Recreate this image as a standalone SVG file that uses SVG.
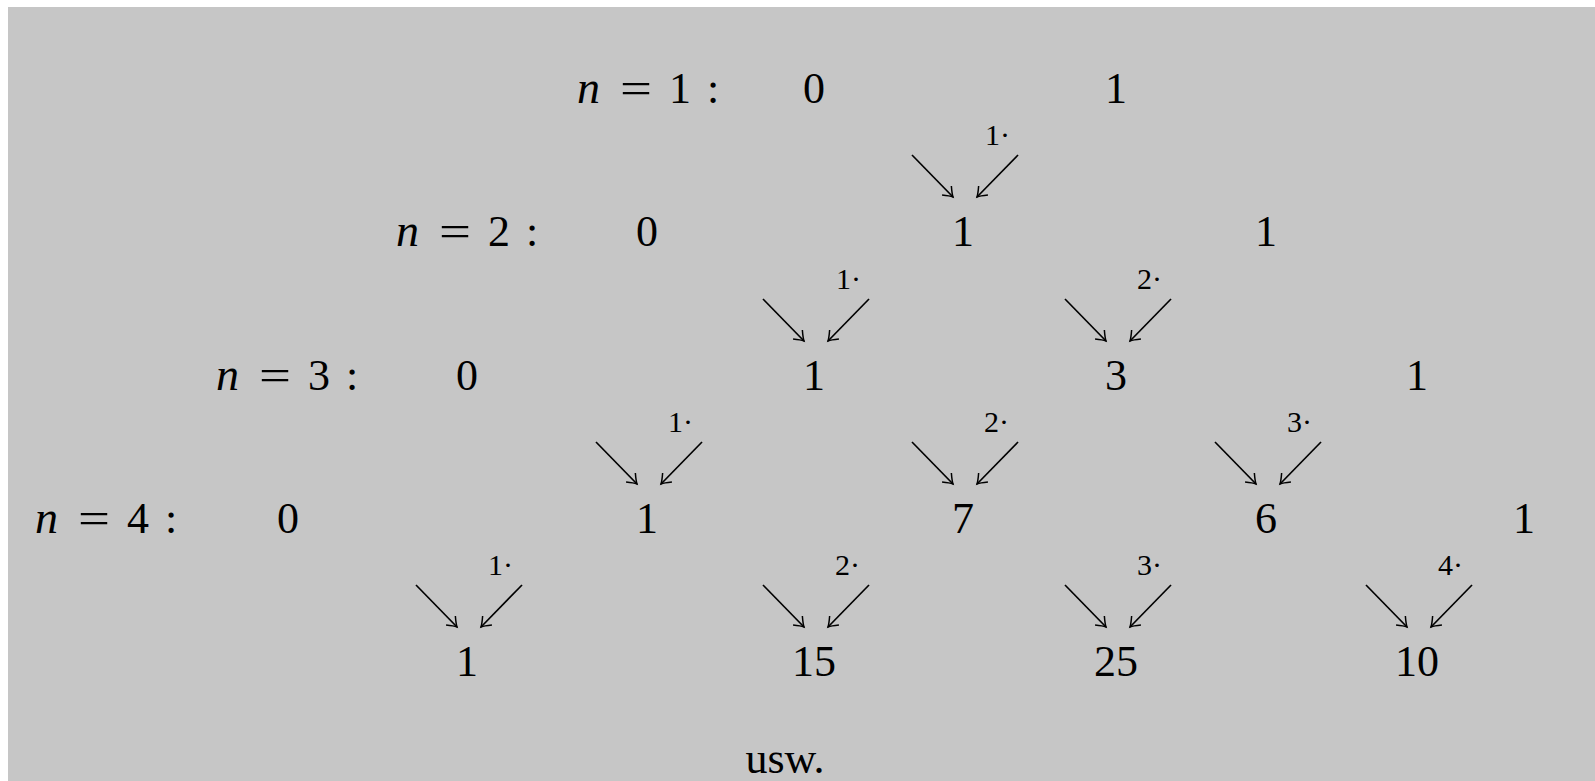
<svg xmlns="http://www.w3.org/2000/svg" width="1595" height="781" viewBox="0 0 1595 781">
<style>
text{font-family:"Liberation Serif","DejaVu Serif",serif;fill:#000}
.v{font-size:44px;text-anchor:middle}
.lab{font-size:44px}
.m{font-style:italic;font-size:46px}
.s{font-size:30px}
.a{stroke:#000;stroke-width:1.7;fill:none;marker-end:url(#ah)}
</style>
<defs>
<marker id="ah" markerUnits="userSpaceOnUse" markerWidth="20" markerHeight="20" viewBox="-10 -10 20 20" refX="0" refY="0" orient="auto" overflow="visible">
<path d="M-9,-6.5 Q-3,-1.5 0,0 Q-3,1.5 -9,6.5" stroke="#000" stroke-width="1.5" fill="none"/>
</marker>
</defs>
<rect x="8" y="7" width="1587" height="774" fill="#c6c6c6"/>
<g id="labels">
<g id="label-n1"><text class="lab m" x="577" y="103">n</text><text class="lab" x="620" y="103" textLength="32" lengthAdjust="spacingAndGlyphs">=</text><text class="lab" x="669" y="103">1</text><text class="lab" x="707" y="103">:</text></g>
<g id="label-n2"><text class="lab m" x="396" y="246">n</text><text class="lab" x="439" y="246" textLength="32" lengthAdjust="spacingAndGlyphs">=</text><text class="lab" x="488" y="246">2</text><text class="lab" x="526" y="246">:</text></g>
<g id="label-n3"><text class="lab m" x="216" y="390">n</text><text class="lab" x="259" y="390" textLength="32" lengthAdjust="spacingAndGlyphs">=</text><text class="lab" x="308" y="390">3</text><text class="lab" x="346" y="390">:</text></g>
<g id="label-n4"><text class="lab m" x="35" y="533">n</text><text class="lab" x="78" y="533" textLength="32" lengthAdjust="spacingAndGlyphs">=</text><text class="lab" x="127" y="533">4</text><text class="lab" x="165" y="533">:</text></g>
</g>
<g id="row1">
<g id="r1c0"><text class="v" x="814" y="103">0</text></g>
<g id="r1c1"><text class="v" x="1116" y="103">1</text></g>
</g>
<g id="row2">
<g id="r2c0"><text class="v" x="647" y="246">0</text></g>
<g id="r2c1"><text class="v" x="963" y="246">1</text></g>
<g id="r2c2"><text class="v" x="1266" y="246">1</text></g>
</g>
<g id="row3">
<g id="r3c0"><text class="v" x="467" y="390">0</text></g>
<g id="r3c1"><text class="v" x="814" y="390">1</text></g>
<g id="r3c2"><text class="v" x="1116" y="390">3</text></g>
<g id="r3c3"><text class="v" x="1417" y="390">1</text></g>
</g>
<g id="row4">
<g id="r4c0"><text class="v" x="288" y="533">0</text></g>
<g id="r4c1"><text class="v" x="647" y="533">1</text></g>
<g id="r4c2"><text class="v" x="963" y="533">7</text></g>
<g id="r4c3"><text class="v" x="1266" y="533">6</text></g>
<g id="r4c4"><text class="v" x="1524" y="533">1</text></g>
</g>
<g id="row5">
<g id="r5c1"><text class="v" x="467" y="676">1</text></g>
<g id="r5c2"><text class="v" x="814" y="676">15</text></g>
<g id="r5c3"><text class="v" x="1116" y="676">25</text></g>
<g id="r5c4"><text class="v" x="1417" y="676">10</text></g>
</g>
<g id="usw"><text class="v" x="785" y="773">usw.</text></g>
<g id="connectors">
<line class="a" x1="912" y1="155" x2="953" y2="197"/>
<line class="a" x1="1018" y1="155" x2="977" y2="197"/>
<text class="s" x="985" y="145">1·</text>
<line class="a" x1="763" y1="299" x2="804" y2="341"/>
<line class="a" x1="869" y1="299" x2="828" y2="341"/>
<text class="s" x="836" y="289">1·</text>
<line class="a" x1="1065" y1="299" x2="1106" y2="341"/>
<line class="a" x1="1171" y1="299" x2="1130" y2="341"/>
<text class="s" x="1137" y="289">2·</text>
<line class="a" x1="596" y1="442" x2="637" y2="484"/>
<line class="a" x1="702" y1="442" x2="661" y2="484"/>
<text class="s" x="668" y="432">1·</text>
<line class="a" x1="912" y1="442" x2="953" y2="484"/>
<line class="a" x1="1018" y1="442" x2="977" y2="484"/>
<text class="s" x="984" y="432">2·</text>
<line class="a" x1="1215" y1="442" x2="1256" y2="484"/>
<line class="a" x1="1321" y1="442" x2="1280" y2="484"/>
<text class="s" x="1287" y="432">3·</text>
<line class="a" x1="416" y1="585" x2="457" y2="627"/>
<line class="a" x1="522" y1="585" x2="481" y2="627"/>
<text class="s" x="488" y="575">1·</text>
<line class="a" x1="763" y1="585" x2="804" y2="627"/>
<line class="a" x1="869" y1="585" x2="828" y2="627"/>
<text class="s" x="835" y="575">2·</text>
<line class="a" x1="1065" y1="585" x2="1106" y2="627"/>
<line class="a" x1="1171" y1="585" x2="1130" y2="627"/>
<text class="s" x="1137" y="575">3·</text>
<line class="a" x1="1366" y1="585" x2="1407" y2="627"/>
<line class="a" x1="1472" y1="585" x2="1431" y2="627"/>
<text class="s" x="1438" y="575">4·</text>
</g>
</svg>
